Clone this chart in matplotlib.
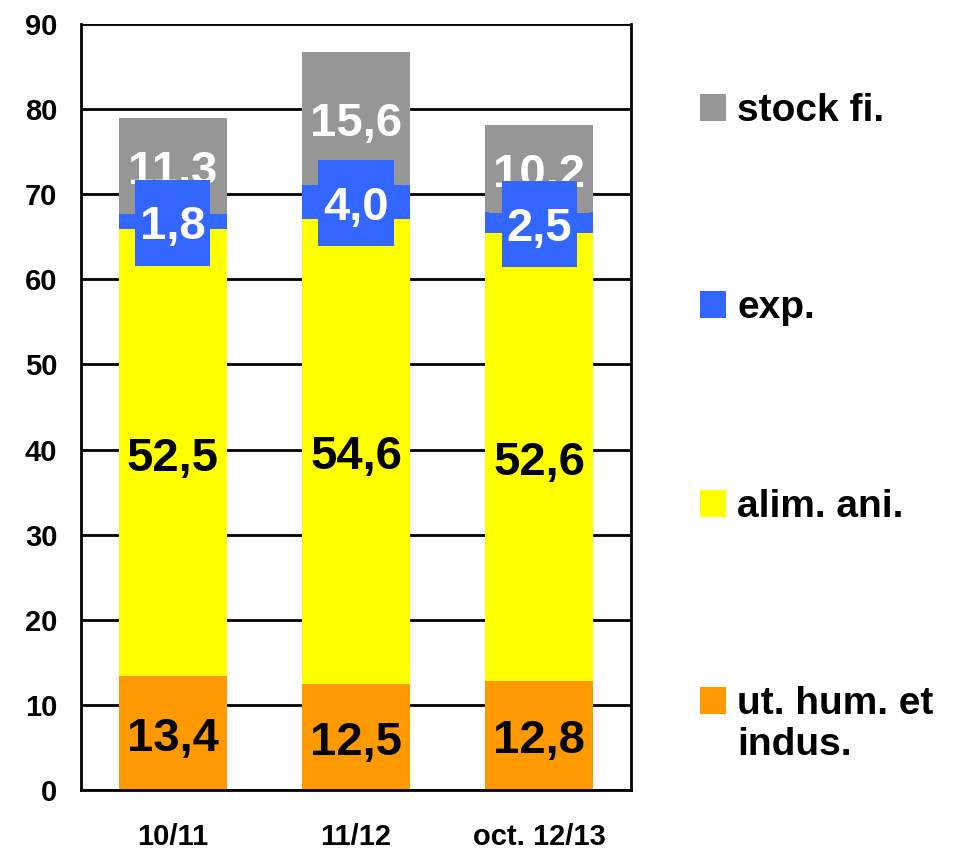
import matplotlib.pyplot as plt
from matplotlib.patches import Rectangle
from matplotlib.path import Path
import numpy as np

plt.rcParams['font.family'] = ['Liberation Sans', 'DejaVu Sans']
plt.rcParams['font.weight'] = 'bold'

campagnes = ['10/11', '11/12', 'oct. 12/13']
ut_hum = [13.4, 12.5, 12.8]
alim_ani = [52.5, 54.6, 52.6]
exp_vals = [1.8, 4.0, 2.5]
stock_fi = [11.3, 15.6, 10.2]

series = [
    ('ut. hum. et\nindus.', ut_hum, '#FF9900', 'black'),
    ('alim. ani.', alim_ani, '#FFFF00', 'black'),
    ('exp.', exp_vals, '#3366FF', 'white'),
    ('stock fi.', stock_fi, '#969696', 'white'),
]


def boite(x0, y0, width, height, mutation_size):
    # box centred on the digits, taller than the text
    cy = y0 + 0.568 * mutation_size
    hh = 0.91 * mutation_size
    px = 0.1 * mutation_size
    verts = [(x0 - px, cy - hh), (x0 + width + px, cy - hh),
             (x0 + width + px, cy + hh), (x0 - px, cy + hh), (x0 - px, cy - hh)]
    return Path(verts, closed=True)


fig = plt.figure(figsize=(9.61, 8.52), dpi=100)
ax = fig.add_axes([0.0843, 0.0728, 0.5723, 0.899])

x = np.arange(len(campagnes))
bottom = np.zeros(len(campagnes))
mids = []
for name, vals, col, tcol in series:
    vals = np.array(vals)
    ax.bar(x, vals, 0.59, bottom=bottom, color=col, zorder=2)
    mids.append(bottom + vals / 2)
    bottom = bottom + vals

# labels: stock drawn before exp so the blue box covers it
order = [0, 1, 3, 2]
for k, i in enumerate(order):
    name, vals, col, tcol = series[i]
    for j, v in enumerate(vals):
        ax.annotate(('%.1f' % v).replace('.', ','), (x[j], mids[i][j]),
                    xytext=(0, -4.3), textcoords='offset points',
                    ha='center', va='center', fontsize=34, fontweight='bold',
                    color=tcol, zorder=3 + k,
                    bbox=dict(boxstyle=boite, fc=col, ec='none'))

ax.set_xlim(-0.5, 2.5)
ax.set_ylim(0, 90)
ax.set_yticks(np.arange(0, 91, 10))
ax.set_xticks(x)
ax.set_xticklabels(campagnes)
ax.yaxis.grid(True, color='black', linewidth=2, zorder=1)
ax.set_axisbelow(True)
for s in ax.spines.values():
    s.set_linewidth(2)
ax.spines['top'].set_visible(False)
ax.tick_params(axis='y', length=0, pad=17, labelsize=21)
ax.tick_params(axis='x', length=0, pad=24, labelsize=21)
for lab in ax.get_xticklabels() + ax.get_yticklabels():
    lab.set_fontweight('bold')

# legend on the right, top to bottom
leg_y = [0.8738, 0.6426, 0.4090, 0.1778]
for (name, vals, col, tcol), yy in zip(series[::-1], leg_y):
    fig.add_artist(Rectangle((0.7284, yy - 0.0158), 0.0271, 0.0317,
                             transform=fig.transFigure, fc=col, ec='none'))
    fig.text(0.767, yy + 0.0175, name, fontsize=28, fontweight='bold',
             va='top', ha='left', linespacing=1.2)

fig.savefig('out.png', dpi=100)
